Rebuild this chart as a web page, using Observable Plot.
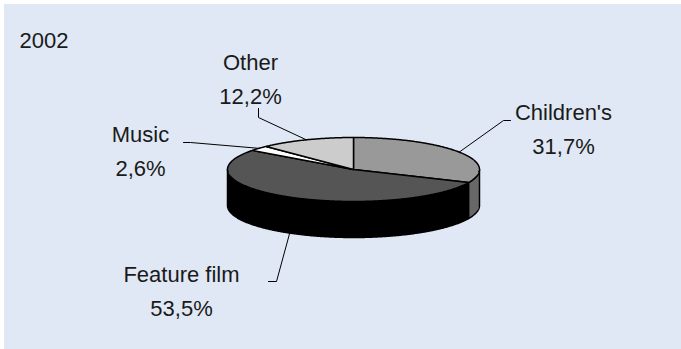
<!DOCTYPE html>
<html><head><meta charset="utf-8">
<script src="https://cdn.jsdelivr.net/npm/d3@7"></script>
<script src="https://cdn.jsdelivr.net/npm/@observablehq/plot@0.6"></script>
<style>
body{margin:0;background:#fff;}
#chart{position:absolute;left:4px;top:4px;}
</style></head><body><div id="chart"></div>
<script>
// ---- data ----
const year = "2002";
const categories = ["Children's", "Feature film", "Music", "Other"];
const shares = [31.7, 53.5, 2.6, 12.2];

// ---- styles / layout ----
const topColors  = ["#999999", "#555555", "#ffffff", "#cccccc"];
const sideColors = ["#686868", "#000000", "#dddddd", "#9a9a9a"];
const OX = 4, OY = 4, W = 677, H = 345;
const cx = 353, cy = 169, rx = 126, ry = 32, depth = 36;
const labelPos = [[563, 95], [181, 257], [140, 117], [250, 45]];
const leaderKnee = [[[510, 120], [503, 120]], [[268, 281], [276, 281]], [[183, 142], [190, 142]], [[258, 108], [258, 117]]];

const rows = categories.map((c, i) => ({cat: c, value: shares[i], i}));
const arcs = d3.pie().value(d => d.value).sort(null).startAngle(0).endAngle(2 * Math.PI)(rows);

const pt = (a, dz = 0) => ({x: cx + rx * Math.sin(a), y: cy - ry * Math.cos(a) + dz});
const step = Math.PI / 360;
function arcPts(a0, a1, dz) {
  const out = [];
  const n = Math.max(2, Math.ceil(Math.abs(a1 - a0) / step));
  for (let k = 0; k <= n; k++) out.push(pt(a0 + (a1 - a0) * k / n, dz));
  return out;
}

const sides = [];
const tops = [];
arcs.forEach(a => {
  const i = a.data.i;
  const s0 = Math.max(a.startAngle, Math.PI / 2), s1 = Math.min(a.endAngle, 3 * Math.PI / 2);
  if (s0 < s1) {
    const poly = [...arcPts(s0, s1, 0), ...arcPts(s1, s0, depth)];
    poly.push(poly[0]);
    poly.forEach(p => sides.push({...p, key: "s" + i, fill: sideColors[i]}));
  }
  const c = {x: cx, y: cy};
  const poly = [c, ...arcPts(a.startAngle, a.endAngle, 0), c];
  poly.forEach(p => tops.push({...p, key: "t" + i, fill: topColors[i]}));
});

const leaders = [];
arcs.forEach(a => {
  const i = a.data.i;
  const mid = (a.startAngle + a.endAngle) / 2;
  const front = mid > Math.PI / 2 && mid < 3 * Math.PI / 2;
  const anchor = pt(mid, front ? depth : 0);
  [...leaderKnee[i].map(([x, y]) => ({x, y})), anchor].forEach(p => leaders.push({...p, key: i}));
});

const labels = arcs.map(a => ({
  x: labelPos[a.data.i][0], y: labelPos[a.data.i][1],
  text: `${a.data.cat}\n${a.data.value.toFixed(1).replace(".", ",")}%`
}));

const chart = Plot.plot({
  width: W, height: H,
  margin: 0,
  x: {domain: [OX, OX + W], range: [0, W], axis: null},
  y: {domain: [OY, OY + H], range: [0, H], axis: null},
  color: {type: "identity"},
  style: {background: "#dfe8f4", fontFamily: "Liberation Sans, Arial, sans-serif"},
  marks: [
    Plot.line(sides, {x: "x", y: "y", z: "key", fill: "fill", stroke: "black", strokeWidth: 1.5, strokeLinejoin: "round"}),
    Plot.line(tops, {x: "x", y: "y", z: "key", fill: "fill", stroke: "black", strokeWidth: 1.5, strokeLinejoin: "round"}),
    Plot.line(leaders, {x: "x", y: "y", z: "key", stroke: "black", strokeWidth: 1}),
    Plot.text(labels, {x: "x", y: "y", text: "text", lineAnchor: "top", lineHeight: 34 / 22, fontSize: 22, fill: "#1a1a1a"}),
    Plot.text([year], {x: () => 19, y: () => 32, text: d => d, textAnchor: "start", lineAnchor: "top", fontSize: 22, fill: "#1a1a1a"})
  ]
});
document.getElementById("chart").append(chart);
</script></body></html>
